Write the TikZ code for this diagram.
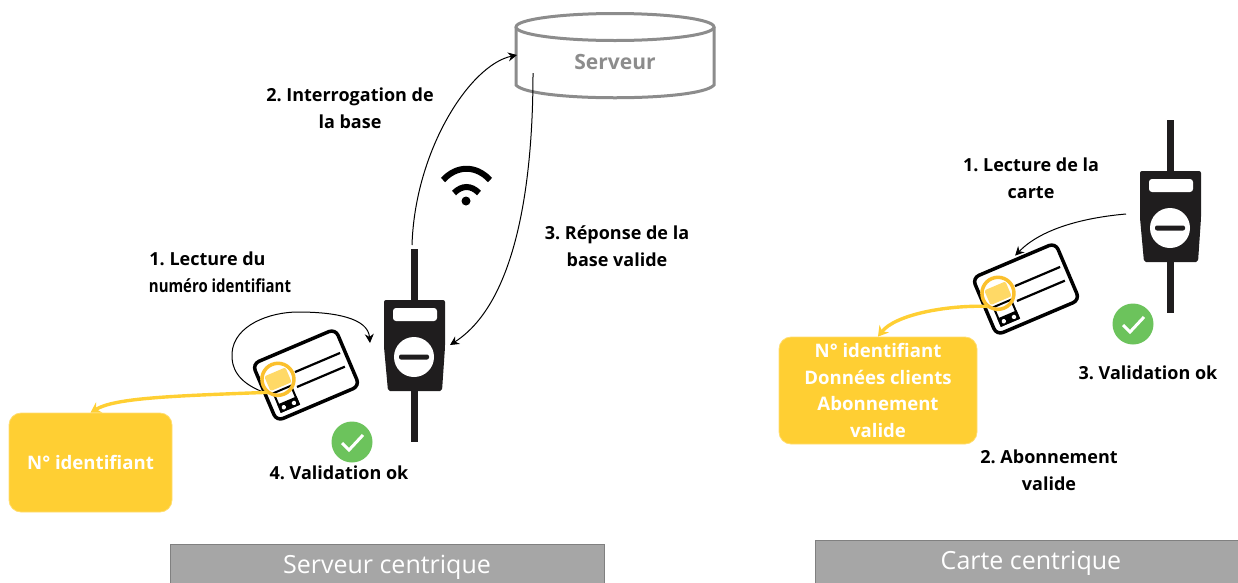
\documentclass[tikz,border=0pt]{standalone}
\usepackage{fontspec}
\setmainfont{Open Sans}
\usetikzlibrary{arrows.meta}
\definecolor{gold}{HTML}{FFCF33}
\definecolor{goldring}{HTML}{FBC02D}
\definecolor{chipfill}{HTML}{FFD966}
\definecolor{okgreen}{HTML}{6CC35C}
\definecolor{srvgray}{HTML}{8C8C8C}
\definecolor{bargray}{HTML}{A6A6A6}
\definecolor{inkdark}{HTML}{1F1D1E}
\tikzset{
    lbl/.style={align=center,font=\frenchspacing\bfseries\fontsize{18}{26.5}\selectfont,text=black,inner sep=0pt},
    infobox/.style={fill=gold,draw=gold!70,line width=.8pt,rounded corners=12pt,align=center,
        text=white,font=\frenchspacing\bfseries\fontsize{18.6}{26.7}\selectfont,inner sep=0pt},
    titlebar/.style={fill=bargray,draw=gray,line width=.8pt,text=white,
        font=\fontsize{25}{28}\selectfont,inner sep=0pt},
    flow/.style={-{Stealth[length=9pt,width=9pt]},line width=1pt,black},
    goldflow/.style={-{Stealth[length=10pt,width=12pt]},line width=3.4pt,gold},
    tickdot/.style={circle,fill=okgreen,minimum size=41pt,inner sep=0pt},
    tickmark/.style={white,line width=3pt},
    reader/.pic={
        \fill[inkdark] (-3.5,-96) rectangle (3.5,97);
        \fill[inkdark,rounded corners=2pt] (-30,-45) -- (31,-45) -- (31,2) -- (28,46) -- (-26,46) -- (-30,2) -- cycle;
        \fill[white,rounded corners=3pt] (-21,-37) rectangle (23,-24);
        \fill[white] (0,12) circle (20);
        \fill[inkdark,rounded corners=2pt] (-15,9.5) rectangle (15,14.5);
        \coordinate (-top) at (-2,-100);
        \coordinate (-east) at (36,0);
        \coordinate (-west) at (-44,-2);
    },
    buscard/.pic={
        \draw[black,fill=white,line width=3.5pt,rounded corners=7pt] (-45,-31) rectangle (45,31);
        \draw[black,line width=2.2pt] (-9,-7) -- (40,-7) (-13,7.5) -- (39,7.5);
        \draw[black,line width=2pt,fill=white] (-37,4) rectangle (-18,24);
        \fill[black] (-38,16) rectangle (-17,25);
        \fill[white] (-33,21) circle (2.2) (-22,21) circle (2.2);
        \fill[chipfill,rounded corners=2pt] (-39,-15) rectangle (-16,1);
        \draw[goldring,line width=3.5pt] (-27.5,-7) circle (16);
        \coordinate (-chip) at (-42,1);
        \coordinate (-edge) at (-47,-2);
        \coordinate (-top) at (3,-35);
    }
}
\begin{document}
\begin{tikzpicture}[x=1pt,y=-1pt]
    \useasboundingbox (0,0) rectangle (1238,582);
    % server
    \draw[srvgray,line width=3pt,fill=white] (516,27) -- (516,85) .. controls (530,102) and (700,102) .. (714,85) -- (714,27);
    \draw[srvgray,line width=3pt,fill=white] (615,27) ellipse (99 and 13.5);
    \node[font=\bfseries\fontsize{21}{24}\selectfont,text=srvgray,inner sep=0pt] (srv) at (615,62) {Serveur};
    \coordinate (srvin) at (517,55);
    \coordinate (srvout) at (533,73);
    % wifi
    \draw[black,line width=6pt] (443,180) .. controls (457,165) and (476,165) .. (490,180);
    \draw[black,line width=6pt] (454,193) .. controls (462,185) and (471,185) .. (479,193);
    \fill[black] (466,201) circle (4.5);
    % left side
    \pic (lreader) at (414,345) {reader};
    \pic[rotate=23] (lcard) at (306,375) {buscard};
    \node[infobox,minimum width=163pt,minimum height=99pt] (lbox) at (90.5,462.5) {N° identifiant};
    \node[tickdot] (ltick) at (352,442) {};
    \draw[tickmark] ([shift={(-10,1)}]ltick.center) -- ([shift={(-3,8)}]ltick.center) -- ([shift={(11,-7)}]ltick.center);
    \draw[flow] (lreader-top) .. controls (415,150) and (470,65) .. (srvin);
    \draw[flow] (srvout) .. controls (533,170) and (520,300) .. (lreader-east);
    \draw[flow] (lcard-edge) .. controls (238,382) and (231,368) .. (232,353) .. controls (234,325) and (270,312) .. (298,312) .. controls (335,312) and (368,318) .. (lreader-west);
    \draw[goldflow] (lcard-chip) .. controls (170,396) and (115,398) .. (lbox.north);
    \node[lbl] (l2) at (350,108) {2. Interrogation de\\la base};
    \node[lbl] (l3) at (617,246) {3. Réponse de la\\base valide};
    \node[lbl] (l1) at (220,272) {\hspace*{-25pt}1. Lecture du\\\scalebox{.83}[1]{numéro identifiant}};
    \node[lbl] (l4) at (339,473) {4. Validation ok};
    % right side
    \pic (rreader) at (1170,216) {reader};
    \pic[rotate=23] (rcard) at (1026,289) {buscard};
    \node[infobox,minimum width=198pt,minimum height=107pt] (rbox) at (878,390.5) {N° identifiant\\Données clients\\Abonnement\\valide};
    \node[tickdot] (rtick) at (1133,324) {};
    \draw[tickmark] ([shift={(-10,1)}]rtick.center) -- ([shift={(-3,8)}]rtick.center) -- ([shift={(11,-7)}]rtick.center);
    \draw[flow] (rreader-west) .. controls (1080,218) and (1040,230) .. (rcard-top);
    \draw[goldflow] (rcard-chip) .. controls (945,305) and (895,315) .. (rbox.north);
    \node[lbl] (r1) at (1031,178) {1. Lecture de la\\carte};
    \node[lbl] (r3) at (1148,373) {3. Validation ok};
    \node[lbl] (r2) at (1049,470) {2. Abonnement\\valide};
    % bottom bars
    \node[titlebar,minimum width=434pt,minimum height=46pt] (lbar) at (387,567) {Serveur centrique};
    \node[titlebar,minimum width=423pt,minimum height=46pt] (rbar) at (1026.5,563) {\hspace*{9pt}Carte centrique};
\end{tikzpicture}
\end{document}
